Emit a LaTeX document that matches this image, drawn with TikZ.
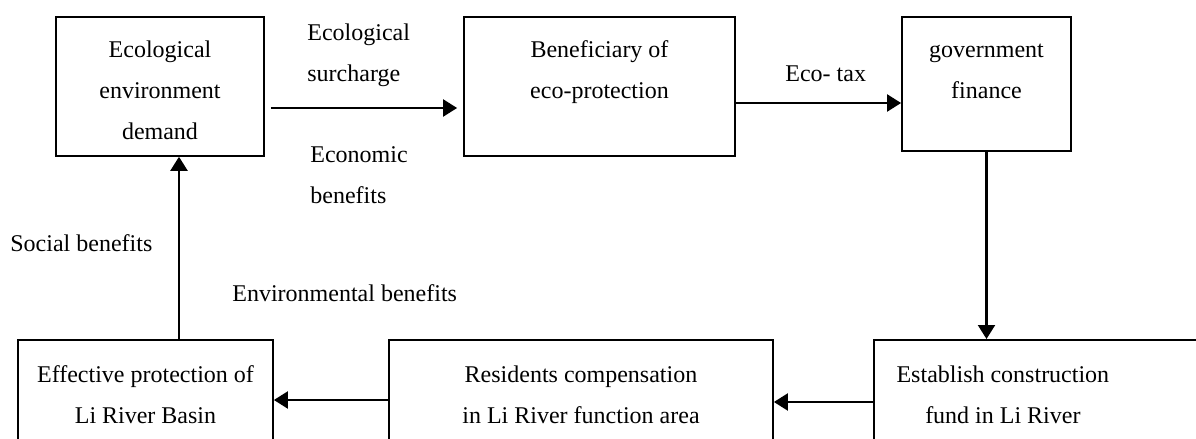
\documentclass[tikz,border=0pt]{standalone}
\usepackage{fontspec}
\setmainfont{Liberation Serif}
\usetikzlibrary{arrows.meta}

\begin{document}
\begin{tikzpicture}[x=0.5pt,y=-0.5pt,>={Triangle[length=7pt,width=8.5pt]},
  every node/.style={font=\fontsize{12pt}{20.5pt}\selectfont},
  box/.style={draw, line width=0.9pt, align=center, inner sep=0pt, anchor=north},
  lbl/.style={align=left, inner sep=0pt, anchor=base west},
  flow/.style={->, line width=1.1pt}]

  \useasboundingbox (0,0) rectangle (1196,439);

  \begin{scope}   % horni rada
    \node[box, minimum width=104pt, text height=61.5pt, text depth=8pt]
         (demand) at (160,16) {Ecological\\environment\\demand};
    \node[box, minimum width=135.5pt, text height=41pt, text depth=28.5pt]
         (benef) at (599.5,16) {Beneficiary of\\eco-protection};
    \node[box, minimum width=84.5pt, text height=41pt, text depth=26pt]
         (finance) at (986.5,16) {government\\finance};
  \end{scope}

  \begin{scope}   % dolni rada
    \node[box, minimum width=127.5pt, text height=42pt, text depth=30pt]
         (protect) at (145.5,339) {Effective protection of\\Li River Basin};
    \node[box, minimum width=192pt, text height=42pt, text depth=30pt]
         (comp) at (581,339) {Residents compensation\\in Li River function area};
    \node[draw, line width=0.9pt, inner sep=0pt, anchor=north west,
          text height=21.5pt, text depth=50pt] (fund) at (873,339)
         {\parbox[t]{129pt}{\centering Establish construction\\fund in Li River}\hspace*{100pt}};
  \end{scope}

  % sipky
  \coordinate (surch)    at ([shift={(3pt,-46pt)}]demand.north east);
  \coordinate (surchend) at ([shift={(-3pt,-46pt)}]benef.north west);
  \draw[flow] (surch) -- (surchend);

  \coordinate (tax) at ([yshift=-43.5pt]benef.north east);
  \draw[flow] (tax) -- (tax -| finance.west);

  \draw[flow] (finance.south) -- (finance.south |- fund.north);

  \coordinate (fundout) at ([yshift=-31.5pt]fund.north west);
  \draw[flow] (fundout) -- (fundout -| comp.east);

  \coordinate (compout) at ([yshift=-30.5pt]comp.north west);
  \draw[flow] (compout) -- (compout -| protect.east);

  \coordinate (soc) at ([xshift=16.75pt]protect.north);
  \draw[flow] (soc) -- (soc |- demand.south);

  % popisky
  \node[lbl] (surcharge) at (307,81) {Ecological\\surcharge};
  \node[lbl] (economic)  at (310,203) {Economic\\benefits};
  \node[lbl] (ecotax)    at (785,81) {Eco- tax};
  \node[lbl] (social)    at (10,251) {Social benefits};
  \node[lbl] (environ)   at (232,301) {Environmental benefits};

\end{tikzpicture}
\end{document}
